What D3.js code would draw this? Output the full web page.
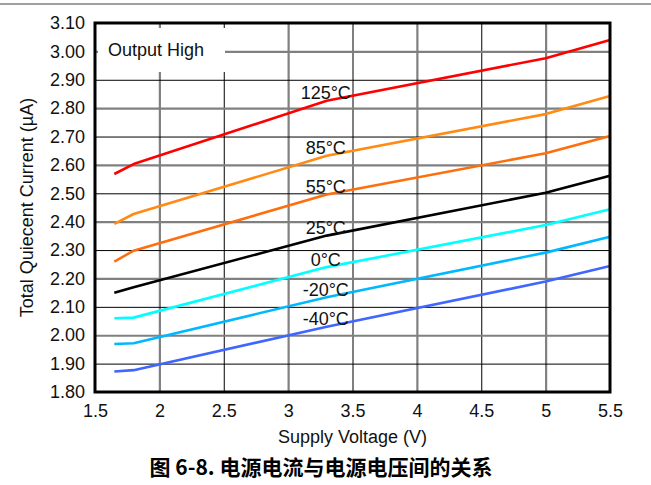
<!DOCTYPE html>
<html><head><meta charset="utf-8">
<script src="https://cdn.jsdelivr.net/npm/d3@7"></script>
<style>
html,body{margin:0;padding:0;background:#fff;}
svg{display:block;}
text{font-family:"Liberation Sans",Arial,sans-serif;}
</style>
</head><body>
<script>
// ---- data ----
const volts = [1.65, 1.8, 3.3, 5.0, 5.5];
const seriesNames = ["125°C", "85°C", "55°C", "25°C", "0°C", "-20°C", "-40°C"];
const i125 = [2.568, 2.603, 2.826, 2.976, 3.040];
const i85  = [2.392, 2.427, 2.632, 2.779, 2.843];
const i55  = [2.259, 2.298, 2.496, 2.641, 2.702];
const i25  = [2.150, 2.169, 2.351, 2.502, 2.562];
const i0   = [2.060, 2.062, 2.240, 2.388, 2.444];
const im20 = [1.969, 1.972, 2.134, 2.291, 2.347];
const im40 = [1.872, 1.877, 2.030, 2.189, 2.244];
const seriesValues = [i125, i85, i55, i25, i0, im20, im40];
const seriesColors = ["#ff0000", "#ff8a14", "#ff6e0c", "#000000", "#00ffff", "#00b8ff", "#3f67ff"];
const xTicks = [1.5, 2, 2.5, 3, 3.5, 4, 4.5, 5, 5.5];
const xTickLabels = ["1.5", "2", "2.5", "3", "3.5", "4", "4.5", "5", "5.5"];
const yTicks = [1.8, 1.9, 2.0, 2.1, 2.2, 2.3, 2.4, 2.5, 2.6, 2.7, 2.8, 2.9, 3.0, 3.1];
const yTickLabels = ["1.80","1.90","2.00","2.10","2.20","2.30","2.40","2.50","2.60","2.70","2.80","2.90","3.00","3.10"];
const labelVolt = 3.3;
const xTitle = "Supply Voltage (V)";
const yTitle = "Total Quiecent Current (µA)";
const noteText = "Output High";
const caption = "图 6-8. 电源电流与电源电压间的关系";

// ---- layout ----
const W = 651, H = 485;
const L = 95, R = 610, T = 23, B = 392;

const svg = d3.select("body").append("svg").attr("width", W).attr("height", H);

// top separator
svg.append("line").attr("x1", 0).attr("x2", W).attr("y1", 4).attr("y2", 4)
  .attr("stroke", "#7f7f7f").attr("stroke-width", 1.5);

const x = d3.scaleLinear().domain([1.5, 5.5]).range([L, R]);
const y = d3.scaleLinear().domain([1.8, 3.1]).range([B, T]);

// gridlines
const gx = svg.append("g").attr("transform", `translate(0,${B})`)
  .call(d3.axisBottom(x).tickValues(xTicks.slice(1, -1)).tickSize(-(B - T)).tickFormat(""));
gx.select(".domain").remove();
gx.selectAll(".tick line")
  .attr("stroke", (d) => (Math.round(d * 2) % 2 === 0) ? "#808080" : "#000")
  .attr("stroke-width", (d) => (Math.round(d * 2) % 2 === 0) ? 2.2 : 1);

const gy = svg.append("g").attr("transform", `translate(${L},0)`)
  .call(d3.axisLeft(y).tickValues(yTicks.slice(1, -1)).tickSize(-(R - L)).tickFormat(""));
gy.select(".domain").remove();
gy.selectAll(".tick line")
  .attr("stroke", (d) => (Math.round(d * 10) % 2 === 0) ? "#808080" : "#000")
  .attr("stroke-width", (d) => (Math.round(d * 10) % 2 === 0) ? 2.2 : 1);

// white box behind note
svg.append("rect").attr("x", 98).attr("y", 28).attr("width", 127).attr("height", 44).attr("fill", "#fff");
svg.append("text").attr("x", 108).attr("y", 56).attr("font-size", 18).attr("fill", "#111").text(noteText);

// series lines
const line = d3.line().x((d, i) => x(volts[i])).y(d => y(d));
seriesValues.forEach((vals, k) => {
  svg.append("path").attr("d", line(vals)).attr("fill", "none")
    .attr("stroke", seriesColors[k]).attr("stroke-width", 2.6).attr("stroke-linejoin", "round");
});

// series labels
seriesValues.forEach((vals, k) => {
  const vi = volts.indexOf(labelVolt);
  svg.append("text").attr("x", x(labelVolt) - 1).attr("y", y(vals[vi]) - 1.5)
    .attr("text-anchor", "middle").attr("font-size", 18).attr("fill", "#111").text(seriesNames[k]);
});

// axis tick labels
const ax = svg.append("g").attr("transform", `translate(0,${B})`)
  .call(d3.axisBottom(x).tickValues(xTicks).tickSize(0).tickPadding(12).tickFormat((d, i) => xTickLabels[i]));
ax.select(".domain").remove();
ax.selectAll("text").attr("font-size", 18).attr("fill", "#111").attr("font-family", "Liberation Sans, Arial, sans-serif");

const ay = svg.append("g").attr("transform", `translate(${L},0)`)
  .call(d3.axisLeft(y).tickValues(yTicks).tickSize(0).tickPadding(10).tickFormat((d, i) => yTickLabels[i]));
ay.select(".domain").remove();
ay.selectAll("text").attr("font-size", 18).attr("fill", "#111").attr("font-family", "Liberation Sans, Arial, sans-serif");

// frame
svg.append("rect").attr("x", L).attr("y", T).attr("width", R - L).attr("height", B - T)
  .attr("fill", "none").attr("stroke", "#000").attr("stroke-width", 3);

// axis titles
svg.append("text").attr("x", (L + R) / 2).attr("y", 443).attr("text-anchor", "middle")
  .attr("font-size", 18).attr("fill", "#111").text(xTitle);
svg.append("text").attr("transform", `translate(33,${(T + B) / 2}) rotate(-90)`)
  .attr("text-anchor", "middle").attr("font-size", 18).attr("fill", "#111").text(yTitle);

// caption
svg.append("text").attr("x", 321).attr("y", 475).attr("text-anchor", "middle")
  .attr("font-size", 21).attr("font-weight", "bold").attr("fill", "#000")
  .style("font-family", "'Noto Sans CJK SC', 'Liberation Sans', sans-serif").text(caption);
</script>
</body></html>
